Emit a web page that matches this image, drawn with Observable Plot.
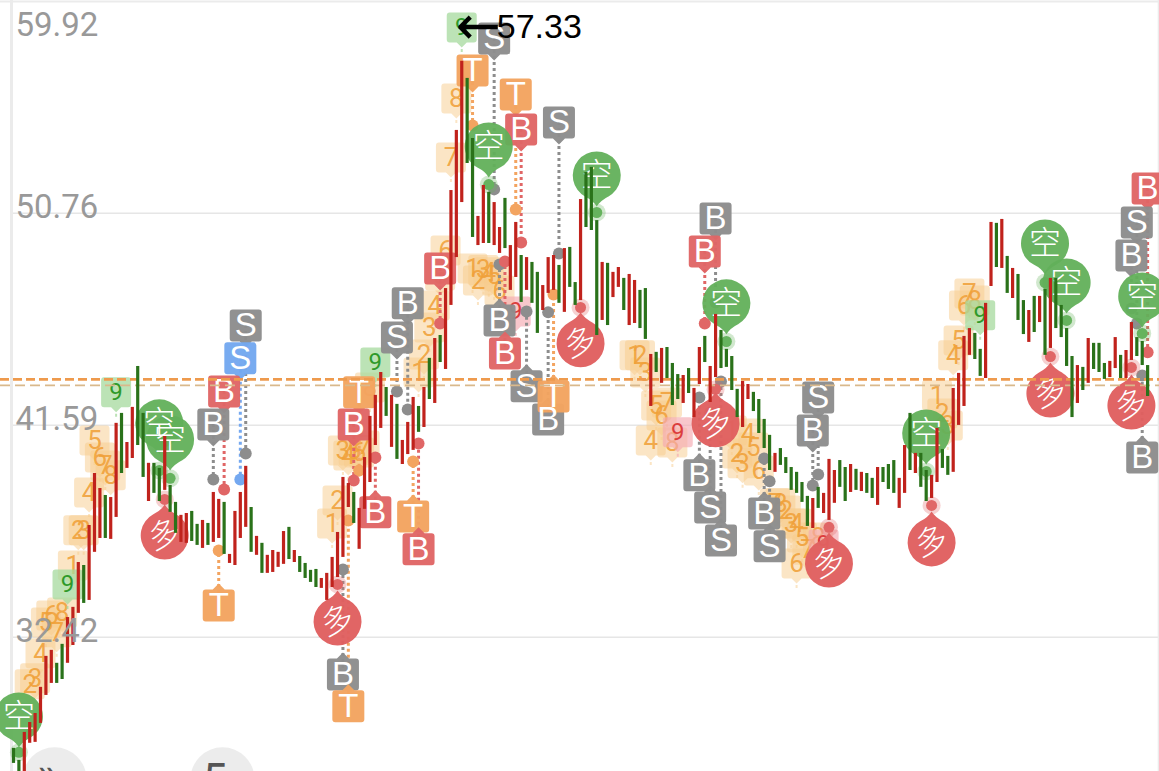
<!DOCTYPE html>
<html><head><meta charset="utf-8">
<script src="https://cdn.jsdelivr.net/npm/d3@7"></script>
<script src="https://cdn.jsdelivr.net/npm/@observablehq/plot@0.6"></script>
<style>html,body{margin:0;padding:0;background:#fff;overflow:hidden}svg{display:block}</style>
</head><body><div id="chart"></div>
<script>
const priceTicks = [59.92, 50.76, 41.59, 32.42];
const lastHigh = 57.33, lastHighBar = 83;
const refLevels = [43.57, 43.31];
const highs = [
27.61,27.09,28.30,28.73,29.12,30.25,31.59,31.85,31.29,32.11,
33.27,33.71,35.65,35.52,37.25,39.50,38.85,38.55,38.46,41.67,
42.10,40.84,42.36,44.13,42.10,39.94,39.94,39.72,41.10,38.98,
38.25,37.69,37.77,37.86,37.30,37.47,37.34,38.68,38.38,38.25,
36.00,37.86,38.68,39.81,38.03,36.78,36.48,35.96,36.17,36.09,
36.99,37.17,36.17,35.91,35.61,35.31,35.35,34.96,35.18,35.87,
36.95,39.33,39.07,38.68,37.99,40.19,41.97,42.88,43.87,43.22,
42.88,42.49,40.93,41.71,42.79,42.40,43.22,44.48,45.34,45.47,
47.50,51.74,54.34,57.33,56.59,53.99,50.62,51.96,51.66,51.22,
50.14,51.40,49.36,50.36,48.93,48.84,48.63,48.20,47.63,48.84,
48.93,48.50,49.23,49.28,47.76,51.35,52.52,52.74,50.44,48.63,
48.59,48.20,48.41,47.94,48.11,47.85,47.42,47.50,44.65,44.74,
44.91,44.95,44.26,43.78,43.74,44.04,43.18,44.95,45.43,44.13,
46.38,45.69,44.87,44.56,43.14,43.48,43.35,43.01,42.70,41.84,
41.15,40.37,40.58,40.19,39.76,39.55,39.11,38.51,38.42,38.90,
38.64,40.11,39.63,40.06,39.76,39.89,39.68,39.55,39.50,39.29,
39.76,39.76,39.89,40.06,39.29,40.71,42.10,40.37,40.37,39.63,
39.42,41.45,40.54,40.24,43.18,43.83,45.43,45.77,45.56,44.87,
46.86,50.36,50.32,50.49,48.89,48.37,48.11,46.98,46.55,47.16,
47.16,47.46,47.94,47.94,46.77,45.77,44.56,44.17,44.09,45.34,
45.13,45.13,44.26,44.35,45.38,44.61,44.82,46.03,45.38,45.21,
44.17];
const lows = [
26.96,26.50,26.50,27.83,27.87,28.69,29.90,30.42,30.42,30.59,
31.29,32.06,33.45,33.88,34.01,36.09,36.69,36.69,36.65,37.60,
39.50,39.72,40.15,40.71,39.33,38.29,38.64,38.29,38.77,37.82,
36.91,36.52,36.48,36.56,36.39,36.26,36.39,36.52,36.69,36.00,
35.61,35.52,36.69,37.17,36.09,35.96,35.18,35.18,35.22,35.44,
35.57,35.78,35.65,35.22,34.96,34.79,34.57,34.53,34.01,34.57,
35.00,35.87,38.03,37.34,36.22,37.95,39.11,40.71,41.45,41.97,
40.63,40.11,39.89,40.32,40.50,41.28,41.49,42.70,42.53,44.30,
44.00,46.77,48.84,51.22,52.91,49.71,49.36,49.45,49.45,49.36,
49.02,49.23,47.42,47.98,46.90,47.42,46.86,45.56,46.55,47.29,
47.42,46.86,46.47,47.55,46.77,46.98,50.14,50.01,45.47,46.12,
45.90,47.11,47.55,46.55,45.90,45.99,45.77,45.30,42.40,43.87,
43.40,43.61,42.44,42.70,42.53,42.96,41.92,43.35,44.30,42.57,
43.65,44.04,44.09,43.09,41.92,41.49,42.70,42.18,41.23,40.58,
39.63,39.55,39.85,39.50,38.77,38.64,38.25,37.21,37.12,37.99,
37.77,37.47,38.21,38.90,38.29,38.68,38.77,38.72,38.64,38.42,
38.12,39.11,38.81,38.64,37.99,38.64,39.63,39.50,38.90,38.29,
38.42,39.11,39.72,39.42,39.55,41.58,42.40,44.61,44.43,43.70,
43.61,47.59,48.41,48.37,47.29,47.07,46.12,45.51,45.17,45.60,
46.03,44.61,44.91,45.77,45.38,44.13,41.92,42.53,43.09,43.40,
44.00,43.87,43.57,43.65,44.04,43.61,43.61,44.39,44.56,44.17,
42.83];
const directions =
"ggrrrrrrgg"+"rrrgrrrgrr"+"grrggrggrg"+"grrggrgrrg"+"rrrrgrgrrr"+"rgrggggrrr"+"rrrgrrrrrg"+"rgrrrgrgrg"+
"rrrrggrrgr"+"rgrrgrggrr"+"rgrggrgggr"+"grrgrrggrg"+"rgggrgrrgr"+"rggggrrggg"+"grggggggrg"+"rrrggrgrgg"+
"rgggrrgrgg"+"rrggrrrrgg"+"rrgrgrggrg"+"rgrggggrgr"+"gggrrgrrgg"+"g";

// [letter, signal kind, bar, badge price, dot price]
const signalBadges = [
["S","neutral",43,45.90,40.37],["S","alert",42,44.48,39.24],["B","buy",39,43.05,38.81],["B","neutral",37,41.62,39.24],
["T","take",38,33.79,36.17],["S","neutral",71,45.38,43.05],["B","neutral",73,46.86,42.27],["T","take",64,43.01,39.63],
["B","buy",63,41.62,39.20],["B","buy",67,37.82,40.19],["T","take",74,37.64,40.02],["B","buy",75,36.22,40.80],
["B","neutral",61,30.81,35.35],["T","take",62,29.43,37.47],["B","buy",79,48.37,45.99],["T","take",85,56.93,54.55],
["S","neutral",89,58.32,51.79],["T","take",93,55.89,50.92],["B","buy",94,54.38,49.49],["S","neutral",101,54.68,49.02],
["B","neutral",90,46.12,48.54],["B","buy",91,44.69,48.67],["S","neutral",95,43.27,46.51],["B","neutral",99,41.84,46.47],
["T","take",100,42.83,47.24],["B","neutral",130,50.53,46.90],["B","buy",128,49.10,45.99],["B","neutral",127,39.42,42.79],
["S","neutral",129,38.03,42.14],["S","neutral",131,36.60,43.48],["S","neutral",149,42.79,39.46],["B","neutral",148,41.36,38.98],
["B","neutral",139,37.77,40.15],["S","neutral",140,36.35,39.16],["B","buy",210,51.83,44.74],["S","neutral",208,50.36,45.99],
["B","neutral",207,48.93,46.64],["B","neutral",209,40.19,43.74]];
// [bar, pin price, dot price]
const shortPins = [[1,28.99,27.44],[27,41.67,39.63],[29,40.97,39.29],[88,53.65,52.00],[108,52.39,50.79],[132,46.86,45.21],
[169,41.23,39.59],[191,49.45,47.76],[195,47.76,46.12],[209,47.16,45.56]];
const longPins = [[28,36.82,38.38],[60,33.10,34.70],[105,45.13,46.68],[130,41.67,43.14],[151,35.61,37.17],[170,36.52,38.12],
[192,42.96,44.56],[207,42.44,44.09]];
// [count, bar, price]
const countBadges = [
["2",3,30.38],["3",4,30.64],["4",5,31.72],["5",6,33.06],["6",7,33.36],["7",8,32.63],["8",9,33.49],
["1",11,35.52],["2",12,37.04],["3",13,37.04],["4",14,38.68],["5",15,40.93],["6",16,40.19],["7",17,39.85],["8",18,39.42],
["1",59,37.34],["2",60,38.33],["3",61,40.50],["4",62,40.28],["5",63,40.50],["6",64,40.41],["7",65,40.71],["8",66,43.22],
["1",75,43.87],["2",76,44.65],["3",77,45.82],["4",78,46.77],["5",79,48.07],["6",80,49.15],["7",81,53.17],["8",82,55.72],
["1",85,48.37],["2",86,47.85],["3",87,48.30],["4",88,48.20],["5",89,48.07],["6",90,47.42],
["1",115,44.61],["2",116,44.61],["3",117,43.87],["4",118,40.93],["5",119,42.44],["6",120,42.01],["7",121,42.57],["8",122,40.84],
["1",133,41.36],["2",134,40.37],["3",135,39.94],["4",136,41.23],["5",137,40.63],["6",138,39.63],["7",141,38.21],["8",142,38.21],
["2",143,37.90],["3",144,37.34],["4",145,37.34],["5",146,36.73],["6",145,35.61],["7",147,36.20],["8",149,36.73],
["1",171,42.88],["2",172,42.10],["3",173,41.58],["4",174,44.61],["5",175,45.25],["6",176,46.77],["7",177,47.29],["8",178,46.98]];
const nineUp = [[10,34.70],[19,43.01],[67,44.30],[83,58.79],[179,46.34]];
const nineDown = [[93,46.51],[123,41.28],[150,36.43]];
const buttons = [{bar:7.6,glyphBar:6.3,glyphPrice:26.49,glyph:"»",w:"bold"},{bar:38.7,glyphBar:37.3,glyphPrice:26.2,glyph:"5",w:"normal"}];
const buttonPrice = 26.27;

// ---------- build tables
const bars = highs.map((h,i)=>({i,high:h,low:lows[i],c:directions[i]==="r"?"#c0221c":"#2a721a"}));
const kindColor = {neutral:"#8d8d8d",buy:"#e06666",take:"#f3a460",alert:"#74a8f0"};
const badges = signalBadges.map(([t,k,i,p,d])=>({t,k,i,p,d,color:kindColor[k]}));
const badgeUp = badges.filter(b=>b.d>b.p), badgeDown = badges.filter(b=>b.d<b.p);
const pins = (a)=>a.map(([i,p,d])=>({i,p,d}));
const shorts = pins(shortPins), longs = pins(longPins);
const counts = countBadges.map(([t,i,p])=>({t,i,p}));
const nU = nineUp.map(([i,p])=>({i,p})), nD = nineDown.map(([i,p])=>({i,p}));

// ---------- symbols
function roundSquare(ctx,s,r){
  ctx.moveTo(-s+r,-s);ctx.lineTo(s-r,-s);ctx.arcTo(s,-s,s,-s+r,r);ctx.lineTo(s,s-r);ctx.arcTo(s,s,s-r,s,r);
  ctx.lineTo(-s+r,s);ctx.arcTo(-s,s,-s,s-r,r);ctx.lineTo(-s,-s+r);ctx.arcTo(-s,-s,-s+r,-s,r);ctx.closePath();
}
function tri(ctx,a,b,w){ctx.moveTo(-w,a);ctx.lineTo(0,b);ctx.lineTo(w,a);ctx.closePath();}
const squareDown={draw(c){roundSquare(c,16,3);tri(c,16,22,6);}};
const squareUp={draw(c){roundSquare(c,16,3);tri(c,-16,-22,6);}};
const countSym={draw(c){roundSquare(c,15,3);tri(c,15,20,5);c.rect(-1,21.5,2,3);}};
const pinDown={draw(c){c.moveTo(0,31);c.quadraticCurveTo(3.5,25,13,20.2);c.arc(0,0,24,Math.PI/3+0.03,2*Math.PI/3-0.03,true);c.quadraticCurveTo(-3.5,25,0,31);c.closePath();}};
const pinUp={draw(c){c.moveTo(0,-31);c.quadraticCurveTo(3.5,-25,13,-20.2);c.arc(0,0,24,-Math.PI/3-0.03,-2*Math.PI/3+0.03,false);c.quadraticCurveTo(-3.5,-25,0,-31);c.closePath();}};

const chart = Plot.plot({
  width:1159,height:771,margin:0,
  style:{fontFamily:"Roboto, sans-serif",background:"#fff"},
  x:{domain:[-2.407,212.2],axis:null},
  y:{domain:[26.61,59.96],axis:null},
  color:{type:"identity"},
  marks:[
    // frame and grid
    Plot.ruleY(priceTicks.slice(1),{x1:-0.37,x2:212.2,stroke:"#e6e6e6",strokeWidth:1.5}),
    Plot.ruleX([-0.37],{stroke:"#ebebeb",strokeWidth:3}),
    Plot.ruleX([212.05],{stroke:"#ebebeb",strokeWidth:2}),
    Plot.ruleY([59.92],{stroke:"#ebebeb",strokeWidth:2}),
    // bottom buttons
    Plot.dot(buttons,{x:"bar",y:()=>buttonPrice,r:32,fill:"#ececec"}),
    Plot.text(buttons,{x:"glyphBar",y:"glyphPrice",text:"glyph",fontSize:44,fontWeight:"w",fill:"#555"}),
    // TD counts
    Plot.dot(counts,{x:"i",y:"p",r:10,symbol:countSym,fill:"#f8cb8c",fillOpacity:0.5}),
    Plot.text(counts,{x:"i",y:"p",text:"t",fontSize:26,fill:"#f0a13a",fillOpacity:0.9}),
    Plot.dot(nU,{x:"i",y:"p",r:10,symbol:countSym,fill:"#a6d99e",fillOpacity:0.75}),
    Plot.text(nU,{x:"i",y:"p",text:()=>"9",fontSize:24,fill:"#2f9a2a"}),
    Plot.dot(nD,{x:"i",y:"p",r:10,symbol:countSym,fill:"#f4a9b0",fillOpacity:0.65}),
    Plot.text(nD,{x:"i",y:"p",text:()=>"9",fontSize:24,fill:"#dc3d3d"}),
    // dotted leaders
    Plot.ruleX(badges,{x:"i",y1:"p",y2:"d",stroke:"color",strokeWidth:3,strokeDasharray:"3 3"}),
    Plot.dot(badges,{x:"i",y:"d",r:6,fill:"color"}),
    // square badges
    Plot.dot(badgeDown,{x:"i",y:"p",r:10,symbol:squareDown,fill:"color",fillOpacity:0.97}),
    Plot.dot(badgeUp,{x:"i",y:"p",r:10,symbol:squareUp,fill:"color",fillOpacity:0.97}),
    Plot.text(badges,{x:"i",y:"p",text:"t",fontSize:33,fill:"#fff",fontFamily:"Liberation Sans"}),
    // long pins
    Plot.dot(longs,{x:"i",y:"d",r:9,fill:"#e06666",fillOpacity:0.3}),
    Plot.dot(longs,{x:"i",y:"d",r:5.5,fill:"#e06666"}),
    Plot.dot(longs,{x:"i",y:"p",r:10,symbol:pinUp,fill:"#e06060",fillOpacity:0.97}),
    Plot.text(longs,{x:"i",y:"p",text:()=>"多",fontSize:32,fontWeight:300,rotate:-18,fill:"#fff",fontFamily:"Noto Sans CJK SC"}),
    // short pins
    Plot.dot(shorts,{x:"i",y:"d",r:9,fill:"#66b35e",fillOpacity:0.3}),
    Plot.dot(shorts,{x:"i",y:"d",r:5.5,fill:"#66b35e"}),
    Plot.dot(shorts,{x:"i",y:"p",r:10,symbol:pinDown,fill:"#62b05a",fillOpacity:0.95}),
    Plot.text(shorts,{x:"i",y:"p",text:()=>"空",fontSize:32,fontWeight:300,fill:"#fff",fontFamily:"Noto Sans CJK SC"}),
    // reference levels
    Plot.ruleY([refLevels[1]],{stroke:"#d9b98c",strokeWidth:1.6,strokeDasharray:"10 5"}),
    Plot.ruleY([refLevels[0]],{stroke:"#ee9a4d",strokeWidth:2.6,strokeDasharray:"9 4"}),
    // candles
    Plot.ruleX(bars,{x:"i",y1:"low",y2:"high",stroke:"c",strokeWidth:3.2}),
    // price axis
    Plot.axisY(priceTicks.slice(0,1),{anchor:"left",tickSize:0,tickPadding:0,textAnchor:"start",dx:15,dy:24,fontSize:33,fill:"#999",label:null,tickFormat:d=>d.toFixed(2)}),
    Plot.axisY(priceTicks.slice(1),{anchor:"left",tickSize:0,tickPadding:0,textAnchor:"start",dx:15,dy:-6,fontSize:33,fill:"#999",label:null,tickFormat:d=>d.toFixed(2)}),
    Plot.text([lastHigh],{x:()=>lastHighBar,y:()=>58.79,text:()=>"←",textAnchor:"start",dx:-6,dy:-1,fontSize:54,fontFamily:"DejaVu Sans",fill:"#000"}),
    Plot.text([lastHigh],{x:()=>lastHighBar,y:()=>58.79,text:d=>d.toFixed(2),textAnchor:"start",dx:35,fontSize:34,fill:"#000",fontFamily:"Liberation Sans"})
  ]
});
document.getElementById("chart").appendChild(chart);
</script></body></html>
